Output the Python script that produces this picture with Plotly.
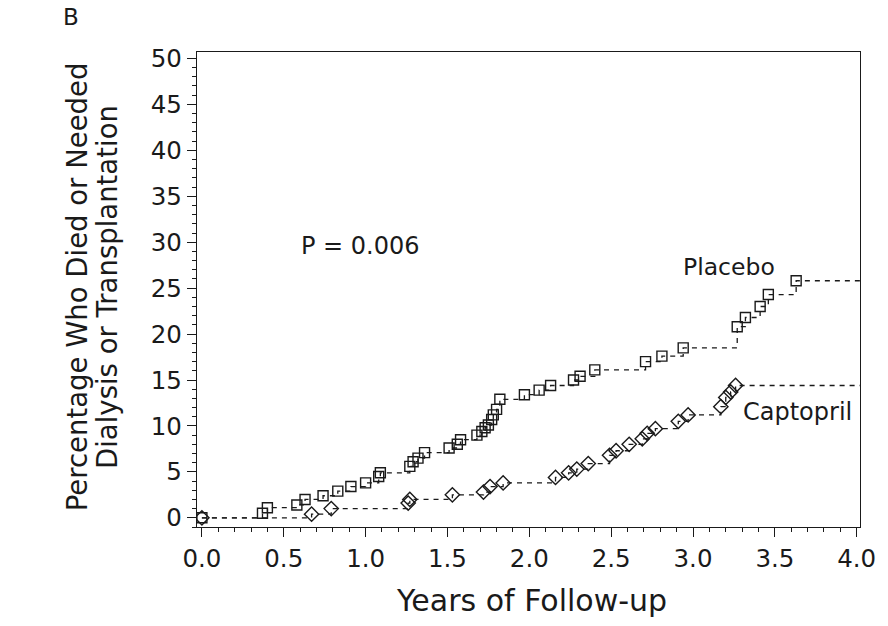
import plotly.graph_objects as go

# Event times (years) and cumulative percentages
placebo_t = [0.0, 0.37, 0.40, 0.58, 0.63, 0.74, 0.83, 0.91, 1.00, 1.08, 1.09,
             1.27, 1.29, 1.32, 1.36, 1.51, 1.56, 1.58, 1.68, 1.71, 1.73, 1.75,
             1.77, 1.78, 1.80, 1.82, 1.97, 2.06, 2.13, 2.27, 2.31, 2.40, 2.71,
             2.81, 2.94, 3.27, 3.32, 3.41, 3.46, 3.63]
placebo_y = [0.0, 0.5, 1.1, 1.4, 2.0, 2.4, 2.9, 3.4, 3.8, 4.5, 4.9,
             5.6, 6.1, 6.5, 7.1, 7.6, 8.0, 8.5, 9.0, 9.4, 9.8, 10.1,
             10.7, 11.2, 11.8, 12.9, 13.4, 13.9, 14.4, 15.0, 15.4, 16.1, 17.0,
             17.6, 18.5, 20.8, 21.8, 23.0, 24.3, 25.8]

captopril_t = [0.0, 0.67, 0.79, 1.26, 1.27, 1.53, 1.72, 1.76, 1.84, 2.16, 2.24,
               2.29, 2.36, 2.49, 2.53, 2.61, 2.69, 2.72, 2.77, 2.91, 2.97,
               3.17, 3.20, 3.23, 3.26]
captopril_y = [0.0, 0.4, 1.0, 1.6, 2.0, 2.5, 2.8, 3.4, 3.8, 4.4, 4.9,
               5.3, 5.9, 6.8, 7.3, 8.0, 8.6, 9.2, 9.7, 10.5, 11.2,
               12.1, 13.1, 13.7, 14.4]

follow_up_end = 4.02
x_ticks = [0.0, 0.5, 1.0, 1.5, 2.0, 2.5, 3.0, 3.5, 4.0]
y_ticks = [0, 5, 10, 15, 20, 25, 30, 35, 40, 45, 50]
y_title_lines = ["Percentage Who Died or Needed", "Dialysis or Transplantation"]
x_title = "Years of Follow-up"

FONT = "DejaVu Sans, Liberation Sans, sans-serif"
INK = "#1a1a1a"

W, H, L, R, T, B = 888, 626, 197, 21, 52, 99
PW, PH = W - L - R, H - T - B


def px_x(p):
    return (p - L) / PW


def px_y(p):
    return 1 - (p - T) / PH


fig = go.Figure()

for t, y, sym in [(placebo_t, placebo_y, "square-open"),
                  (captopril_t, captopril_y, "diamond-open")]:
    fig.add_trace(go.Scatter(
        x=t + [follow_up_end], y=y + [y[-1]], mode="lines",
        line=dict(color=INK, width=1.3, dash="5px,5px", shape="hv"),
        hoverinfo="skip", showlegend=False))
    fig.add_trace(go.Scatter(
        x=t, y=y, mode="markers",
        marker=dict(symbol=sym, size=10 if "square" in sym else 11,
                    color=INK, line=dict(color=INK, width=1.4)),
        showlegend=False))

fig.add_annotation(x=0.59, y=29.6, text="P = 0.006", showarrow=False,
                   xanchor="left", font=dict(family=FONT, size=24, color=INK))
fig.add_annotation(x=3.22, y=27.3, text="Placebo", showarrow=False,
                   font=dict(family=FONT, size=23.5, color=INK))
fig.add_annotation(x=3.64, y=11.5, text="Captopril", showarrow=False,
                   font=dict(family=FONT, size=24, color=INK))

fig.add_annotation(x=px_x(70), y=px_y(17), xref="paper", yref="paper",
                   text="B", showarrow=False, xanchor="center", yanchor="middle",
                   font=dict(family=FONT, size=23, color=INK))

# axis titles
for cx, line in zip([76, 106], y_title_lines):
    fig.add_annotation(x=px_x(cx), y=px_y(287), xref="paper", yref="paper",
                       text=line, textangle=-90, showarrow=False,
                       xanchor="center", yanchor="middle",
                       font=dict(family=FONT, size=27.5, color=INK))
fig.add_annotation(x=px_x(535), y=px_y(600), xref="paper", yref="paper",
                   text=x_title, showarrow=False,
                   xanchor="center", yanchor="middle",
                   font=dict(family=FONT, size=30, color=INK))

fig.update_layout(
    width=W, height=H,
    margin=dict(l=L, r=R, t=T, b=B),
    paper_bgcolor="white", plot_bgcolor="white",
    font=dict(family=FONT, color=INK),
    showlegend=False,
)

fig.update_xaxes(
    range=[-0.03, 4.02], tickvals=x_ticks,
    ticktext=[f"{v:.1f}" for v in x_ticks],
    ticks="outside", ticklen=9, tickwidth=1.3, tickcolor=INK,
    minor=dict(dtick=0.1, ticks="outside", ticklen=4, tickwidth=1.1, tickcolor=INK),
    showline=True, linecolor=INK, linewidth=1.3, mirror=True,
    showgrid=False, zeroline=False,
    tickfont=dict(family=FONT, size=24.5, color=INK),
)
fig.update_yaxes(
    range=[-1.0, 50.7], tickvals=y_ticks,
    ticks="outside", ticklen=9, tickwidth=1.3, tickcolor=INK,
    minor=dict(dtick=1, ticks="outside", ticklen=4, tickwidth=1.1, tickcolor=INK),
    showline=True, linecolor=INK, linewidth=1.3, mirror=True,
    showgrid=False, zeroline=False,
    tickfont=dict(family=FONT, size=24.5, color=INK),
)

fig.write_html("out.html")
